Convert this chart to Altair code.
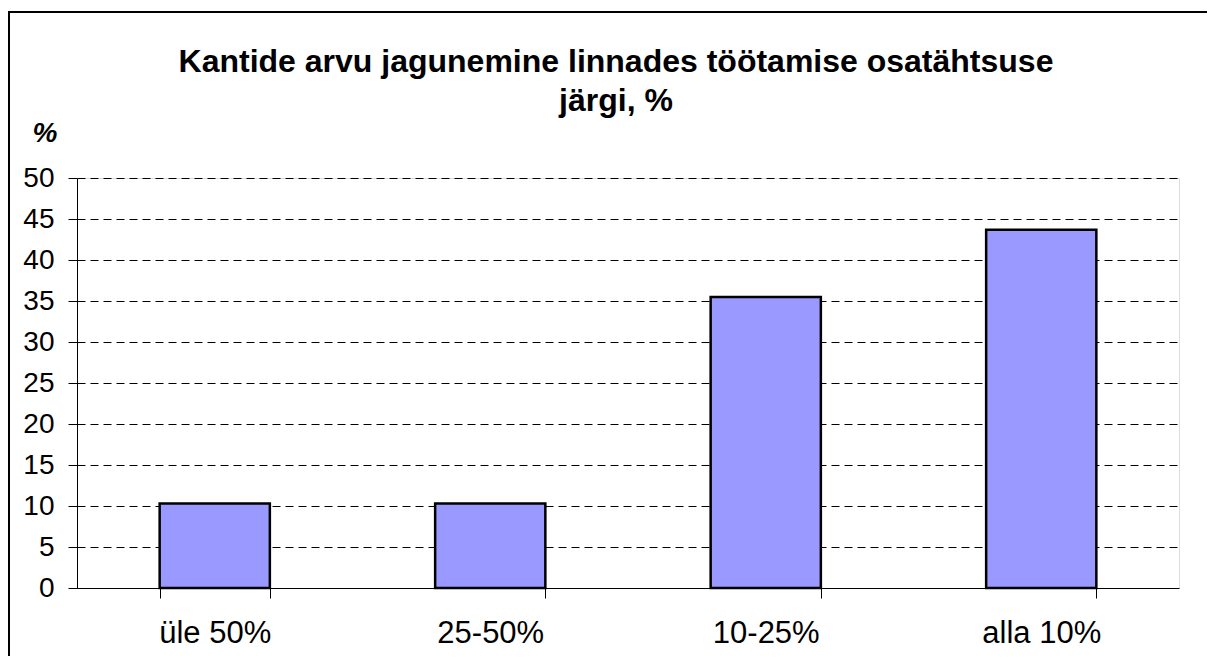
import altair as alt
import pandas as pd

categories = ["üle 50%", "25-50%", "10-25%", "alla 10%"]
values = [10.3, 10.3, 35.5, 43.7]
title_lines = ["Kantide arvu jagunemine linnades töötamise osatähtsuse", "järgi, %"]
y_ticks = [0, 5, 10, 15, 20, 25, 30, 35, 40, 45, 50]

df = pd.DataFrame({"kategooria": categories, "protsent": values})
FONT = "Liberation Sans"
one = pd.DataFrame({"k": [0]})

# outer chart frame (top and left edges; right/bottom fall outside the picture)
frame_top = alt.Chart(one).mark_rule(stroke="black", strokeWidth=2).encode(
    x=alt.value(-69), x2=alt.value(1400), y=alt.value(-166)
)
frame_left = alt.Chart(one).mark_rule(stroke="black", strokeWidth=2).encode(
    x=alt.value(-68), y=alt.value(-167), y2=alt.value(900)
)

bars = alt.Chart(df).mark_bar(fill="#9999FF", stroke="black", strokeWidth=2.5).encode(
    x=alt.X(
        "kategooria:N",
        sort=categories,
        scale=alt.Scale(paddingInner=0.6, paddingOuter=0.3),
        axis=alt.Axis(
            title=None, labelAngle=0, tickBand="extent", grid=False,
            labelFontSize=31, labelFont=FONT, labelColor="black",
            labelPadding=20, tickSize=10, tickColor="black", domainColor="black",
        ),
    ),
    y=alt.Y(
        "protsent:Q",
        scale=alt.Scale(domain=[0, 50], nice=False),
        axis=alt.Axis(
            values=y_ticks, title="%", titleAngle=0, titleAlign="left",
            titleBaseline="alphabetic", titleX=-45, titleY=-37,
            titleFontSize=28, titleFont=FONT, titleFontWeight="bold",
            titleFontStyle="italic", titleColor="black",
            labelFontSize=28, labelFont=FONT, labelColor="black", labelPadding=14,
            tickSize=9, tickColor="black", domainColor="black",
            grid=True, gridColor="black", gridDash=[8, 5], gridWidth=1,
        ),
    ),
)

chart = alt.layer(frame_top, frame_left, bars).properties(
    width=1102,
    height=410,
    autosize=alt.AutoSizeParams(type="none"),
    padding={"left": 69, "top": 170, "right": 28, "bottom": 68},
    title=alt.TitleParams(
        text=title_lines, fontSize=32, font=FONT, fontWeight="bold",
        color="black", lineHeight=39, anchor="middle", dx=-12, offset=-108,
    ),
).configure_view(stroke="black", strokeWidth=1).configure(background="white")

chart.save("out.html", embed_options={"renderer": "svg", "actions": False})
